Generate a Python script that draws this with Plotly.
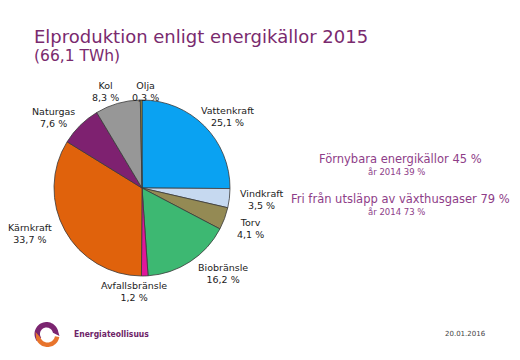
import math
import plotly.graph_objects as go

# ---- data ----
sources = ["Vattenkraft", "Vindkraft", "Torv", "Biobränsle", "Avfallsbränsle",
           "Kärnkraft", "Naturgas", "Kol", "Olja"]
shares = [25.1, 3.5, 4.1, 16.2, 1.2, 33.7, 7.6, 8.3, 0.3]
title_text = "Elproduktion enligt energikällor 2015"
subtitle_text = "(66,1 TWh)"
side_main = ["Förnybara energikällor 45 %", "Fri från utsläpp av växthusgaser 79 %"]
side_sub = ["år 2014 39 %", "år 2014 73 %"]
brand = "Energiateollisuus"
date_text = "20.01.2016"

# ---- style ----
W, H = 520, 360
colors = ["#0aa2f2", "#c6d9f0", "#948a54", "#3db872", "#e0169a",
          "#e0620c", "#7e2170", "#979797", "#b39a3a"]
PIE_CX, PIE_CY, PIE_R = 142, 188, 88
label_nudge = {"Biobränsle": (15, 0), "Avfallsbränsle": (-12, 2), "Olja": (5, 5),
               "Torv": (-4, 5), "Kärnkraft": (-7, -4), "Naturgas": (-4, 2), "Kol": (-3, 2)}
TITLE_COL = "#7a2a6e"
SIDE_COL = "#8e3d88"
FONT = "DejaVu Sans"


def px(x, y):
    return x / W, 1 - y / H


fig = go.Figure()
fig.add_trace(go.Pie(
    labels=sources, values=shares, sort=False, direction="clockwise", rotation=0,
    marker=dict(colors=colors, line=dict(color="#3a3a3a", width=0.8)),
    textinfo="none", hoverinfo="label+percent", showlegend=False,
    domain=dict(x=[(PIE_CX - PIE_R) / W, (PIE_CX + PIE_R) / W],
                y=[1 - (PIE_CY + PIE_R) / H, 1 - (PIE_CY - PIE_R) / H]),
))

annotations = []
total = sum(shares)
cum = 0.0
for name, v in zip(sources, shares):
    mid = (cum + v / 2) / total * 2 * math.pi
    cum += v
    lx = PIE_CX + math.sin(mid) * (PIE_R + 32)
    ly = PIE_CY - math.cos(mid) * (PIE_R + 14)
    dx, dy = label_nudge.get(name, (0, 0))
    x, y = px(lx + dx, ly + dy)
    annotations.append(dict(
        x=x, y=y, xref="paper", yref="paper", showarrow=False,
        text=f"{name}<br>{v:.1f} %".replace(".", ","), align="center",
        font=dict(family=FONT, size=9.5, color="#222222"),
        xanchor="center", yanchor="middle"))

# title
x, y = px(32, 37)
annotations.append(dict(x=x, y=y, xref="paper", yref="paper", showarrow=False,
                        text=title_text, xanchor="left", yanchor="middle",
                        font=dict(family=FONT, size=18, color=TITLE_COL)))
x, y = px(32, 56)
annotations.append(dict(x=x, y=y, xref="paper", yref="paper", showarrow=False,
                        text=subtitle_text, xanchor="left", yanchor="middle",
                        font=dict(family=FONT, size=15.5, color=TITLE_COL)))

# side texts
for i, (m, s) in enumerate(zip(side_main, side_sub)):
    x, y = px(400, 159 + 40 * i)
    annotations.append(dict(x=x, y=y, xref="paper", yref="paper", showarrow=False,
                            text=m, xanchor="center", yanchor="middle",
                            font=dict(family=FONT, size=11.5, color=SIDE_COL)))
    x, y = px(396, 172 + 40 * i)
    annotations.append(dict(x=x, y=y, xref="paper", yref="paper", showarrow=False,
                            text=s, xanchor="center", yanchor="middle",
                            font=dict(family=FONT, size=8.5, color=SIDE_COL)))

# footer
x, y = px(72, 334)
annotations.append(dict(x=x, y=y, xref="paper", yref="paper", showarrow=False,
                        text=f"<b>{brand}</b>", xanchor="left", yanchor="middle",
                        font=dict(family="DejaVu Sans Condensed, DejaVu Sans", size=8.5,
                                  color="#6e2468")))
x, y = px(465, 334)
annotations.append(dict(x=x, y=y, xref="paper", yref="paper", showarrow=False,
                        text=date_text, xanchor="center", yanchor="middle",
                        font=dict(family=FONT, size=7, color="#444444")))


def ring(cx, cy, r_out, r_in, a0, a1, n=30, tip=None):
    pts = []
    for k in range(n + 1):
        a = math.radians(a0 + (a1 - a0) * k / n)
        pts.append((cx + r_out * math.cos(a), cy - r_out * math.sin(a)))
    if tip is not None:
        pts.append(tip)
    for k in range(n, -1, -1):
        a = math.radians(a0 + (a1 - a0) * k / n)
        pts.append((cx + r_in * math.cos(a), cy - r_in * math.sin(a)))
    s = ""
    for i, (a, b) in enumerate(pts):
        X, Y = px(a, b)
        s += ("M" if i == 0 else "L") + f"{X:.5f},{Y:.5f} "
    return s + "Z"


shapes = [
    dict(type="path", xref="paper", yref="paper", line=dict(width=0),
         fillcolor="#7b2570", path=ring(46.5, 334, 12, 6.5, 215, 10, tip=(59.5, 336))),
    dict(type="path", xref="paper", yref="paper", line=dict(width=0),
         fillcolor="#e8742c", path=ring(47.5, 335, 12, 7.5, 350, 200, tip=(35.5, 332))),
]

fig.update_layout(
    width=W, height=H, margin=dict(l=0, r=0, t=0, b=0),
    paper_bgcolor="white", plot_bgcolor="white",
    annotations=annotations, shapes=shapes,
)
fig.write_html("out.html", config={"displayModeBar": False},
               post_script="document.body.style.margin='0';document.body.style.overflow='hidden';")
